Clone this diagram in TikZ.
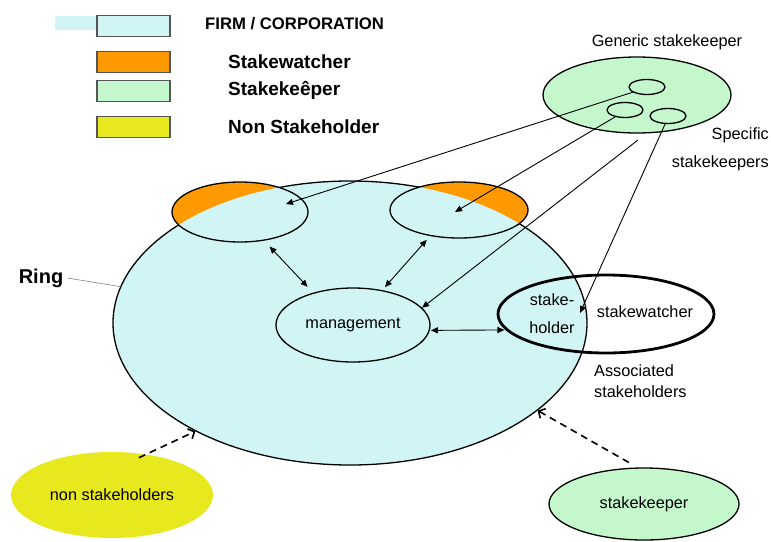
\documentclass[tikz,border=0pt]{standalone}
\usepackage{fontspec}
\setmainfont{Liberation Sans}
\usetikzlibrary{arrows.meta,shapes.geometric}

\definecolor{firmfill}{RGB}{209,245,245}
\definecolor{watchfill}{RGB}{255,153,0}
\definecolor{keepfill}{RGB}{197,247,205}
\definecolor{nonfill}{RGB}{232,232,30}
\definecolor{keybord}{RGB}{85,85,85}

\begin{document}
\begin{tikzpicture}[x=1pt,y=-1pt,
  oval/.style={ellipse, draw=black, line width=1.3pt, inner sep=0pt},
  keybox/.style={rectangle, draw=keybord, line width=1.4pt, minimum width=73pt, minimum height=21pt, inner sep=0pt},
  keytext/.style={anchor=west, inner sep=0pt, font=\bfseries\fontsize{19}{21}\selectfont},
  lbl/.style={inner sep=0pt, font=\fontsize{16.3}{19}\selectfont},
  feed/.style={line width=0.9pt, -{Triangle[length=7pt,width=6pt]}},
  mutual/.style={line width=0.9pt, {Triangle[length=7pt,width=6pt]}-{Triangle[length=7pt,width=6pt]}},
  influence/.style={line width=1.6pt, dash pattern=on 7pt off 5pt, -{Straight Barb[length=5pt,width=11pt]}}
]
\useasboundingbox (0,0) rectangle (771,541);

% ---------- legend ----------
\node[rectangle, fill=firmfill, minimum width=42pt, minimum height=14pt, inner sep=0pt] (lgBar) at (76,23) {};
\node[keybox, fill=firmfill]  (lgFirm)  at (133.5,26) {};
\node[keybox, fill=watchfill] (lgWatch) at (133.5,62) {};
\node[keybox, fill=keepfill]  (lgKeep)  at (133.5,91) {};
\node[keybox, fill=nonfill]   (lgNon)   at (133.5,127) {};
\node[anchor=west, inner sep=0pt, font=\bfseries\fontsize{16.7}{19}\selectfont] (txFirm) at (205,24) {FIRM / CORPORATION};
\node[keytext] (txWatch) at (228,62) {Stakewatcher};
\node[keytext] (txKeep)  at (228,90) {Stakekeêper};
\node[keytext] (txNon)   at (228,127) {Non Stakeholder};

% ---------- the firm ----------
\node[oval, fill=firmfill, minimum width=474pt, minimum height=284pt] (firm) at (350,323) {};

% rings of the firm: orange where they stick out of it
\foreach \cx/\cy/\rx/\ry in {240/212/68/30, 459/210/69/28}{
  \fill[watchfill] (\cx,\cy) ellipse [x radius=\rx pt, y radius=\ry pt];
  \begin{scope}
    \clip (350,323) ellipse [x radius=237pt, y radius=142pt];
    \fill[firmfill] (\cx,\cy) ellipse [x radius=\rx pt, y radius=\ry pt];
  \end{scope}
}
\node[oval, minimum width=136pt, minimum height=60pt] (ringL) at (240,212) {};
\node[oval, minimum width=138pt, minimum height=56pt] (ringR) at (459,210) {};

\node[oval, minimum width=154pt, minimum height=74pt, lbl] (mgmt) at (353,325) {management};
\node[ellipse, draw=black, line width=2.8pt, inner sep=0pt, minimum width=216pt, minimum height=78pt] (sh) at (606,314) {};
\node[lbl, align=center, font=\fontsize{16.3}{28}\selectfont] (shIn) at (552,314) {stake-\\holder};
\node[lbl] (shOut) at (645,312) {stakewatcher};
\node[lbl, anchor=west, align=left, font=\fontsize{16.3}{21}\selectfont] (assoc) at (594,381) {Associated\\stakeholders};

% ring label
\node[inner sep=0pt, font=\bfseries\fontsize{20}{22}\selectfont] (ring) at (41,278) {Ring};
\draw[gray, line width=0.6pt] (ring.east) ++(4pt,0) -- (firm.171);

% ---------- generic stakekeeper ----------
\node[oval, fill=keepfill, minimum width=188pt, minimum height=76pt] (gen) at (637,95) {};
\node[oval, minimum width=36pt, minimum height=15pt] (s1) at (647,87) {};
\node[oval, minimum width=36pt, minimum height=15pt] (s2) at (625,110) {};
\node[oval, minimum width=36pt, minimum height=15pt] (s3) at (668,116) {};
\node[lbl] (genTx) at (667,42) {Generic stakekeeper};
\node[lbl, anchor=east, align=right, font=\fontsize{16.3}{28}\selectfont] (specTx) at (769,149) {Specific\\stakekeepers};

% ---------- outside the firm ----------
\node[ellipse, fill=nonfill, inner sep=0pt, minimum width=202pt, minimum height=86pt, lbl] (ns) at (112,495) {non stakeholders};
\node[oval, fill=keepfill, minimum width=190pt, minimum height=72pt, lbl] (sk) at (644,504) {stakekeeper};

% ---------- connectors ----------
\coordinate (tipL) at (286,204);
\coordinate (tipR) at (455,212);
\coordinate (tipS) at (580,313);
\coordinate (c3) at (638,140);

\draw[feed] (s1.200) -- (tipL);
\draw[feed] (s2.215) -- (tipR);
\draw[feed] (c3) -- (mgmt.14);
\draw[feed] (s3.250) -- (tipS);

\draw[mutual, shorten <=8pt, shorten >=8pt] (ringL.-50) -- (mgmt.141);
\draw[mutual, shorten <=5pt, shorten >=4pt] (ringR.222) -- (mgmt.50);
\draw[mutual, shorten <=1pt, shorten >=1pt] (mgmt.-4) -- (sh.189);

\draw[influence, shorten <=-8pt] (ns.50) -- (firm.215.5);
\draw[influence, shorten <=10pt] (sk.100) -- (firm.-25);
\end{tikzpicture}
\end{document}
